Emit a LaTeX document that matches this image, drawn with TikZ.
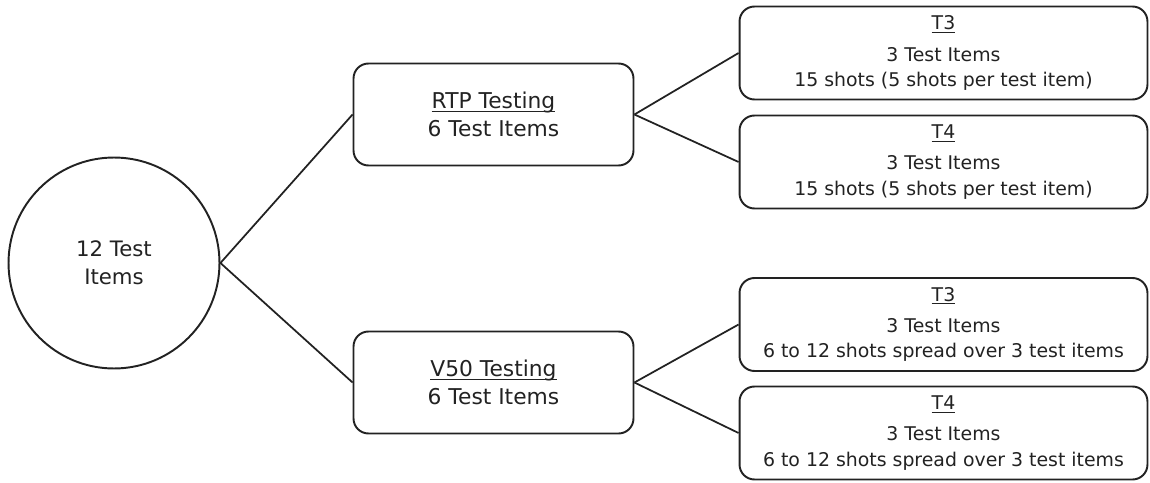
\documentclass[tikz,border=0pt]{standalone}
\usepackage{fontspec}
\setmainfont{DejaVu Sans}
\usetikzlibrary{positioning}
\definecolor{inkgray}{HTML}{222222}

\begin{document}
\begin{tikzpicture}[x=0.02cm, y=-0.02cm, line width=1.1pt, color=inkgray]
	\tikzset{
		rootnode/.style={circle, draw, minimum size=4.22cm, inner sep=0pt, align=center, font=\fontsize{12.1}{16.2}\selectfont},
		groupbox/.style={rectangle, draw, rounded corners=8.5pt, minimum width=5.6cm, minimum height=2.04cm, align=center, font=\fontsize{12.4}{16}\selectfont},
		tierbox/.style={rectangle, draw, rounded corners=8.5pt, minimum width=8.16cm, minimum height=1.86cm, align=center, font=\fontsize{10.75}{14.4}\selectfont},
		link/.style={line width=1pt}
	}
	\useasboundingbox (0,0) rectangle (1150,483);
	\node[rootnode] (items) at (114,263) {12 Test\\Items};
	\node[groupbox] (rtp) at (493.5,114.5) {\underbar{RTP Testing}\\6 Test Items};
	\node[groupbox] (vfifty) at (493.5,382.5) {\underbar{V50 Testing}\\6 Test Items};
	% four tier boxes on the right
	\foreach \nm/\y/\tier/\shots in {rtpthree/53/T3/{15 shots (5 shots per test item)}, rtpfour/162/T4/{15 shots (5 shots per test item)}, vthree/324.5/T3/{6 to 12 shots spread over 3 test items}, vfour/433/T4/{6 to 12 shots spread over 3 test items}} {
		\node[tierbox] (\nm) at (943.5,\y) {\underbar{\tier}\\[3.5pt]3 Test Items\\\shots};
	}
	\draw[link] (items.east) -- (rtp.west);
	\draw[link] (items.east) -- (vfifty.west);
	\draw[link] (rtp.east) -- (rtpthree.west);
	\draw[link] (rtp.east) -- (rtpfour.west);
	\draw[link] (vfifty.east) -- (vthree.west);
	\draw[link] (vfifty.east) -- (vfour.west);
\end{tikzpicture}
\end{document}
